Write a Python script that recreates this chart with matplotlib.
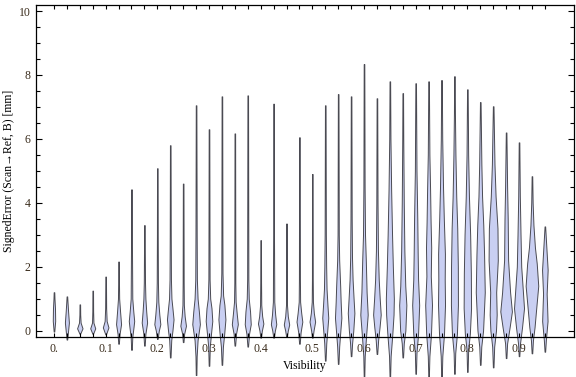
import numpy as np
import matplotlib
matplotlib.use('Agg')
import matplotlib.pyplot as plt
from matplotlib.ticker import MultipleLocator, FixedLocator

# visibility bins (one violin each)
positions = [0.0, 0.025, 0.05, 0.075, 0.1, 0.125, 0.15, 0.175, 0.2, 0.225,
             0.25, 0.275, 0.3, 0.325, 0.35, 0.375, 0.4, 0.425, 0.45, 0.475,
             0.5, 0.525, 0.55, 0.575, 0.6, 0.625, 0.65, 0.675, 0.7, 0.725,
             0.75, 0.775, 0.8, 0.825, 0.85, 0.875, 0.9, 0.925, 0.95]

# min / max signed error per bin [mm]
lows = [-0.03, -0.28, -0.10, -0.10, -0.12, -0.41, -0.60, -0.47, -0.26, -0.84,
        -0.36, -1.39, -1.10, -1.07, -0.47, -0.50, -0.22, -0.22, -0.20, -0.41,
        -0.22, -0.94, -1.04, -0.80, -1.44, -0.73, -1.44, -0.84, -1.35, -1.44,
        -1.47, -1.35, -1.29, -1.07, -1.15, -0.86, -0.80, -0.71, -0.66]
highs = [1.20, 1.07, 0.82, 1.25, 1.69, 2.16, 4.42, 3.30, 5.08, 5.80,
         4.60, 7.05, 6.30, 7.33, 6.17, 7.36, 2.83, 7.10, 3.35, 6.05,
         4.90, 7.05, 7.40, 7.33, 8.34, 7.27, 7.80, 7.43, 7.74, 7.80,
         7.84, 7.96, 7.55, 7.15, 7.02, 6.20, 5.89, 4.83, 3.26]

# density outline per bin: (error, half width in px)
bodies = [
    [(0.3, 1.2), (0.7, 1.0), (1.0, 0.5)],
    [(0, 1.2), (0.25, 2.0), (0.6, 1.2), (0.9, 0.6)],
    [(0.07, 2.7), (0.25, 0.8), (0.5, 0.4)],
    [(0.07, 2.5), (0.25, 0.7), (0.6, 0.4)],
    [(0.1, 2.8), (0.3, 1.0), (0.7, 0.5)],
    [(-0.1, 1.0), (0.2, 2.5), (0.6, 1.5), (1.0, 0.6), (1.5, 0.4)],
    [(-0.2, 0.8), (0.1, 2.0), (0.3, 2.7), (0.6, 1.8), (1.0, 0.8), (2.0, 0.6), (3.0, 0.4)],
    [(-0.1, 1.0), (0.25, 2.7), (0.6, 1.8), (1.0, 1.0), (1.5, 0.6), (2.5, 0.4)],
    [(0, 1.5), (0.2, 3.0), (0.5, 2.0), (0.9, 1.0), (1.5, 0.6), (3, 0.4)],
    [(-0.3, 1.0), (0, 2.2), (0.35, 3.3), (0.7, 2.2), (1.0, 1.2), (1.6, 0.7), (3, 0.5)],
    [(-0.1, 1.0), (0.15, 2.8), (0.45, 1.5), (0.8, 0.7), (1.5, 0.5)],
    [(-0.8, 0.6), (-0.3, 1.5), (0.2, 3.8), (0.6, 2.8), (1.0, 1.5), (1.6, 0.8), (3, 0.6)],
    [(-0.5, 0.8), (-0.1, 2.0), (0.3, 3.3), (0.7, 2.5), (1.0, 1.2), (1.6, 0.6), (3, 0.5)],
    [(-0.5, 1.0), (-0.1, 2.3), (0.35, 3.5), (0.8, 2.5), (1.1, 1.2), (1.8, 0.6), (3, 0.5)],
    [(-0.1, 1.2), (0.2, 3.0), (0.5, 2.0), (0.9, 0.8), (1.5, 0.5)],
    [(-0.1, 1.3), (0.2, 3.0), (0.6, 2.3), (1.0, 1.0), (1.6, 0.6)],
    [(0.0, 1.2), (0.22, 2.7), (0.45, 1.5), (0.8, 0.6), (1.5, 0.4)],
    [(0, 1.3), (0.2, 2.7), (0.5, 1.6), (0.9, 0.7), (1.7, 0.6), (3, 0.4)],
    [(0, 1.3), (0.19, 2.7), (0.45, 1.3), (0.8, 0.5)],
    [(-0.05, 1.2), (0.28, 2.9), (0.55, 1.8), (0.9, 0.7), (1.6, 0.5)],
    [(0, 1.2), (0.28, 2.8), (0.55, 1.5), (0.9, 0.6), (1.6, 0.4)],
    [(-0.4, 1.0), (0, 2.0), (0.4, 3.0), (0.8, 2.2), (1.3, 1.3), (2.0, 0.9), (3, 0.6)],
    [(-0.5, 1.0), (0, 2.2), (0.4, 3.2), (0.9, 2.5), (1.4, 2.0), (2.2, 1.0), (3, 0.6)],
    [(-0.4, 1.0), (0, 2.2), (0.55, 3.3), (1.0, 2.5), (1.6, 1.5), (2.3, 0.9), (3.5, 0.6)],
    [(-0.8, 0.7), (-0.2, 2.0), (0.5, 3.7), (1.2, 2.6), (2.2, 1.8), (3, 1.0), (4.5, 0.6)],
    [(-0.3, 1.2), (0.1, 2.6), (0.5, 3.8), (1.0, 2.8), (1.6, 1.8), (2.5, 1.0), (4, 0.6)],
    [(-0.8, 0.8), (-0.1, 2.5), (0.5, 3.7), (1.0, 4.0), (2.0, 3.0), (3.0, 2.2), (4.4, 1.3), (6, 0.6)],
    [(-0.4, 1.0), (0, 2.6), (0.8, 3.6), (1.4, 2.5), (2.5, 1.6), (4, 1.0), (6, 0.5)],
    [(-0.7, 0.8), (-0.1, 2.4), (0.8, 3.5), (1.6, 2.4), (2.4, 2.0), (3.5, 1.6), (5, 0.8)],
    [(-0.8, 0.8), (-0.1, 2.4), (0.8, 3.4), (1.7, 2.2), (2.6, 2.6), (3.4, 2.0), (4.4, 1.5), (5.5, 0.8)],
    [(-0.8, 0.8), (-0.1, 2.5), (0.8, 3.5), (1.6, 3.2), (2.4, 3.4), (3.5, 2.3), (4.5, 1.5), (6, 0.7)],
    [(-0.7, 0.8), (-0.1, 2.5), (0.8, 3.5), (2.0, 3.4), (3.2, 2.8), (4.2, 1.8), (5.5, 1.0), (6.8, 0.5)],
    [(-0.6, 0.8), (-0.1, 2.5), (0.7, 3.7), (1.8, 3.5), (3.0, 2.8), (4.2, 1.6), (5.5, 0.8)],
    [(-0.5, 1.0), (0, 2.8), (1.2, 4.5), (2.4, 3.8), (3.3, 3.0), (4.2, 1.8), (5.2, 1.1)],
    [(-0.5, 1.0), (0, 2.8), (0.5, 3.5), (1.2, 3.0), (2.2, 4.6), (3.2, 4.3), (4.2, 2.4), (5.2, 1.3)],
    [(-0.4, 1.0), (0.1, 3.5), (0.6, 5.8), (1.2, 4.0), (2.2, 2.0), (3.5, 1.6), (4.5, 1.0)],
    [(-0.4, 1.0), (0.1, 3.0), (0.7, 5.0), (1.4, 3.5), (2.0, 2.2), (3.0, 1.5), (4.2, 0.8)],
    [(-0.3, 1.0), (0.1, 2.6), (0.6, 4.0), (1.4, 6.3), (2.1, 4.8), (2.6, 3.0), (3.3, 1.5), (4.0, 0.7)],
    [(-0.3, 1.0), (0.3, 2.7), (0.8, 2.2), (1.15, 1.8), (1.9, 2.8), (2.6, 1.5)],
]

xticks = [0.0, 0.1, 0.2, 0.3, 0.4, 0.5, 0.6, 0.7, 0.8, 0.9]
xticklabels = ['0.', '0.1', '0.2', '0.3', '0.4', '0.5', '0.6', '0.7', '0.8', '0.9']

plt.rcParams['font.family'] = ['Liberation Serif', 'DejaVu Serif']

fig = plt.figure(figsize=(5.76, 3.77), dpi=100)
ax = fig.add_axes([36/576, 40/377, 538/576, 332/377])
ax.set_xlim(-0.0348, 1.0064)
ax.set_ylim(-0.2, 10.19)

PX = 1.0412 / 538  # one pixel in x data units

for x, lo, hi, knots in zip(positions, lows, highs, bodies):
    ys = [lo] + [k[0] for k in knots] + [hi]
    hw = np.array([0.3] + [k[1] for k in knots] + [0.3]) * PX
    ax.fill_betweenx(ys, x - hw, x + hw, facecolor='#c9cff2',
                     edgecolor='#4a4a52', linewidth=0.7, clip_on=False, zorder=1)

lab_color = '#3a2c1c'
ax.xaxis.set_major_locator(FixedLocator(xticks))
ax.set_xticklabels(xticklabels)
ax.xaxis.set_minor_locator(FixedLocator(positions))
ax.yaxis.set_major_locator(MultipleLocator(2))
ax.yaxis.set_minor_locator(MultipleLocator(0.5))
ax.tick_params(which='both', direction='in', top=True, right=True,
               labelsize=8.5, labelcolor=lab_color, width=0.8, color='black')
ax.tick_params(which='major', length=4.5)
ax.tick_params(which='minor', length=2.8)
ax.tick_params(axis='x', which='major', length=2.8, pad=4)
ax.tick_params(axis='y', pad=4)

for s in ax.spines.values():
    s.set_linewidth(0.9)

ax.set_xlabel('Visibility', fontsize=8.5, labelpad=4)
ax.set_ylabel('SignedError (Scan\u2192Ref, B) [mm]', fontsize=8.5)
ax.yaxis.label.set_va('center')
ax.yaxis.set_label_coords(-0.051, 0.5)

plt.savefig('out.png', dpi=100)
